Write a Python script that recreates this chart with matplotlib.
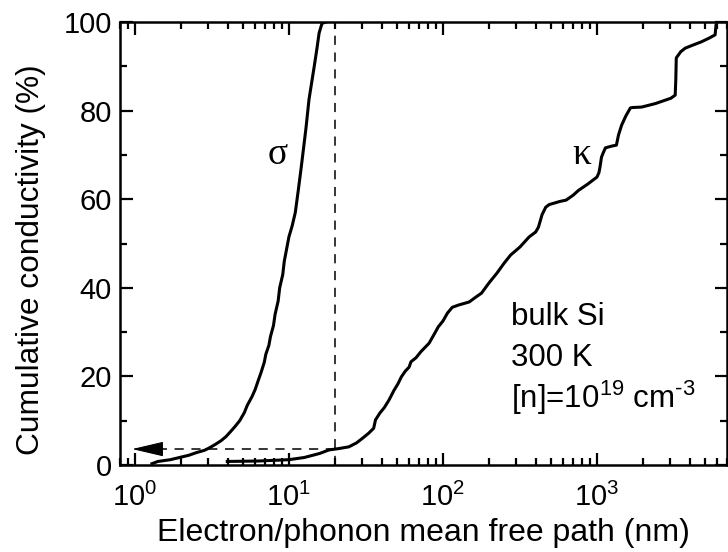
import matplotlib
matplotlib.use("Agg")
import matplotlib.pyplot as plt
from matplotlib.ticker import LogLocator, MultipleLocator, FixedLocator, NullFormatter

plt.rcParams['font.family'] = ['Liberation Sans', 'DejaVu Sans']
plt.rcParams['mathtext.fontset'] = 'custom'
plt.rcParams['mathtext.rm'] = 'Liberation Sans'
plt.rcParams['mathtext.it'] = 'Liberation Sans'

# Electron (sigma) cumulative conductivity vs mean free path (nm)
sigma_mfp = [1.29, 1.41, 1.70, 1.95, 2.24, 2.51, 2.82, 3.02, 3.31, 3.63, 3.90, 4.17, 4.47,
             4.79, 5.13, 5.37, 5.75, 6.03, 6.31, 6.61, 6.92, 7.08, 7.41, 7.59, 7.94, 8.13,
             8.51, 8.71, 9.12, 9.33, 10.0, 10.5, 11.0, 11.5, 12.0, 12.9, 13.5, 14.0, 14.6,
             15.2, 15.7, 16.4, 17.4]
sigma_pct = [0.3, 0.8, 1.2, 1.7, 2.2, 2.8, 3.3, 3.8, 4.6, 5.5, 6.4, 7.5, 8.7,
             10.0, 11.8, 13.5, 15.4, 17.0, 19.0, 21.0, 23.2, 25.0, 27.0, 29.0, 31.5, 34.0,
             37.0, 40.0, 43.0, 46.0, 51.5, 54.0, 57.0, 62.0, 67.0, 76.0, 82.5, 86.0, 90.0,
             94.0, 97.5, 99.7, 100.0]

# Phonon (kappa) cumulative conductivity vs mean free path (nm)
kappa_mfp = [3.98, 6.31, 10.0, 12.6, 15.8, 18.2, 21.0, 24.5, 27.5, 30.2, 33.0, 35.5, 36.5,
             38.9, 41.7, 44.7, 48.0, 51.0, 53.7, 57.0, 60.3, 62.0, 66.8, 72.0, 81.3, 87.0,
             93.3, 100, 107, 115, 126, 135, 148, 162, 178, 200, 224, 250, 275, 316, 363, 400,
             417, 440, 465, 490, 525, 575, 631, 700, 759, 870, 1000, 1030, 1047, 1070, 1096,
             1135, 1250, 1337, 1380, 1445, 1540, 1648, 1700, 1950, 2400, 3020, 3221, 3250,
             3273, 3500, 3741, 4200, 4742, 5300, 5848, 5929]
kappa_pct = [0.8, 0.9, 1.2, 1.7, 2.6, 3.4, 3.7, 4.1, 5.0, 6.1, 7.2, 8.3, 10.2,
             11.7, 13.0, 14.7, 16.8, 18.3, 19.9, 21.2, 22.1, 23.3, 24.2, 25.6, 27.5, 29.3,
             31.2, 32.5, 34.3, 35.6, 36.1, 36.4, 36.8, 37.8, 38.8, 41.2, 43.3, 45.6, 47.4, 49.2,
             51.5, 52.6, 53.7, 56.5, 58.2, 58.8, 59.1, 59.5, 59.8, 60.9, 62.0, 63.4, 65.0,
             66.0, 67.3, 69.5, 70.4, 71.6, 72.0, 72.2, 74.5, 76.7, 78.8, 80.6, 80.7, 80.8,
             81.6, 82.8, 83.5, 87.0, 91.9, 93.3, 94.1, 94.8, 95.5, 96.3, 97.1, 99.3]

cut_mfp = 20.0      # dashed vertical marker (nm)
cut_pct = 3.6       # kappa fraction at cut
arrow_tip = 0.96

x_ticks = [1, 10, 100, 1000]
x_ticklabels = [r'$10^{0}$', r'$10^{1}$', r'$10^{2}$', r'$10^{3}$']
y_ticks = [0, 20, 40, 60, 80, 100]

fig = plt.figure(figsize=(7.28, 5.52), dpi=100)
ax = fig.add_axes([0.1648, 0.1576, 0.834, 0.8025])

ax.plot(sigma_mfp, sigma_pct, color='black', lw=2.2, solid_joinstyle='round', zorder=3)
ax.plot(kappa_mfp, kappa_pct, color='black', lw=2.2, solid_joinstyle='round', zorder=3)

ax.plot([cut_mfp, cut_mfp], [0, 100], color='black', lw=1.1, ls=(0, (6, 5)), zorder=2)
ax.plot([cut_mfp, 1.4], [cut_pct, cut_pct], color='black', lw=1.1, ls=(0, (6, 5)), zorder=2)
ax.annotate('', xy=(arrow_tip, cut_pct), xytext=(1.45, cut_pct),
            arrowprops=dict(arrowstyle='-|>,head_length=20,head_width=4.7',
                            mutation_scale=1, color='black', lw=0.8,
                            shrinkA=0, shrinkB=0), zorder=4)

ax.set_xscale('log')
ax.set_xlim(0.8, 7000)
ax.set_ylim(0, 100)

ax.xaxis.set_major_locator(FixedLocator(x_ticks))
ax.set_xticklabels(x_ticklabels)
ax.xaxis.set_minor_locator(LogLocator(base=10, subs=[2, 3, 4, 5, 6, 7, 8, 9], numticks=20))
ax.xaxis.set_minor_formatter(NullFormatter())
ax.yaxis.set_major_locator(FixedLocator(y_ticks))
ax.yaxis.set_minor_locator(MultipleLocator(10))

ax.tick_params(which='both', direction='in', top=True, right=True, labelsize=21, width=1.6)
ax.tick_params(which='major', length=9)
ax.tick_params(axis='x', which='major', pad=13)
ax.tick_params(axis='y', which='major', pad=6)
ax.tick_params(which='minor', length=5)
for s in ax.spines.values():
    s.set_linewidth(1.8)

ax.set_xlabel('Electron/phonon mean free path (nm)', fontsize=23, labelpad=4)
ax.set_ylabel('Cumulative conductivity (%)', fontsize=22.8, labelpad=6)
ax.yaxis.set_label_coords(-0.122, 0.463)

ax.text(8.4, 70, 'σ', fontsize=27, family='Liberation Serif', ha='center', va='center')
ax.text(795, 70, 'κ', fontsize=27, family='Liberation Serif', ha='center', va='center')

ax.text(275, 31.7, 'bulk Si', fontsize=22.5, ha='left', va='baseline')
ax.text(275, 22.4, '300 K', fontsize=22.5, ha='left', va='baseline')
ax.text(275, 12.8, '[n]=10$^{19}$ cm$^{\u2010 3}$', fontsize=22.5, ha='left', va='baseline')

fig.savefig('out.png', dpi=100)
